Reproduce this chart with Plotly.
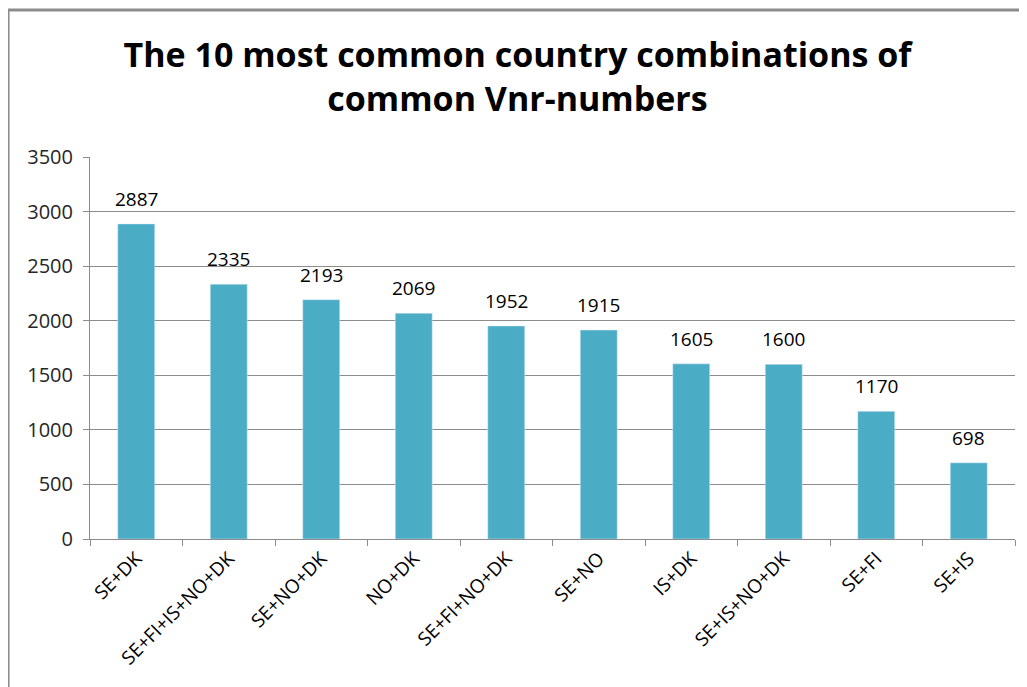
import plotly.graph_objects as go

# 10 vanligaste landskombinationerna
kombinationer = ["SE+DK", "SE+FI+IS+NO+DK", "SE+NO+DK", "NO+DK", "SE+FI+NO+DK",
                 "SE+NO", "IS+DK", "SE+IS+NO+DK", "SE+FI", "SE+IS"]
antal = [2887, 2335, 2193, 2069, 1952, 1915, 1605, 1600, 1170, 698]
y_ticks = [0, 500, 1000, 1500, 2000, 2500, 3000, 3500]

font_fam = "Open Sans, Noto Sans, sans-serif"

fig = go.Figure(go.Bar(
    x=kombinationer,
    y=antal,
    marker_color="#4BACC6",
    hoverinfo="x+y",
))

# värdeetiketter ovanför staplarna
for k, v in zip(kombinationer, antal):
    fig.add_annotation(x=k, y=v, text=str(v), showarrow=False,
                       yanchor="bottom", yshift=10,
                       font=dict(size=19, family=font_fam, color="#000000"))

# ram runt diagrammet (bara vänster och övre kant syns i bilden)
ram = dict(type="line", xref="paper", yref="paper", line=dict(color="#8c8c8c", width=3), layer="below")

# sidan har 8px marginal, så figuren görs lite mindre än fönstret
fig.update_layout(
    width=1019, height=679,
    paper_bgcolor="white", plot_bgcolor="white",
    margin=dict(l=82, r=12, t=149, b=148),
    bargap=0.6,
    showlegend=False,
    title=dict(
        text="<b>The 10 most common country combinations of<br>common Vnr-numbers</b>",
        x=0.5, xanchor="center", y=0.913, yanchor="middle",
        font=dict(size=34, family=font_fam, color="#000000"),
    ),
    shapes=[
        dict(ram, x0=-0.0886, x1=1.2, y0=1.385, y1=1.385),
        dict(ram, x0=-0.0886, x1=-0.0886, y0=-1.0, y1=1.385),
    ],
)

fig.update_yaxes(
    range=[0, 3500], tickvals=y_ticks,
    showgrid=True, gridcolor="#8c8c8c", gridwidth=1,
    showline=True, linecolor="#8c8c8c", linewidth=1,
    ticks="outside", ticklen=6, tickcolor="#8c8c8c",
    ticklabelstandoff=6,
    tickfont=dict(size=20, family=font_fam, color="#262626"),
    zeroline=False,
)
fig.update_xaxes(
    showline=True, linecolor="#8c8c8c", linewidth=1,
    ticks="outside", ticklen=6, tickcolor="#8c8c8c", tickson="boundaries",
    tickangle=-45,
    tickfont=dict(size=19, family=font_fam, color="#000000"),
)

fig.write_html("out.html")
